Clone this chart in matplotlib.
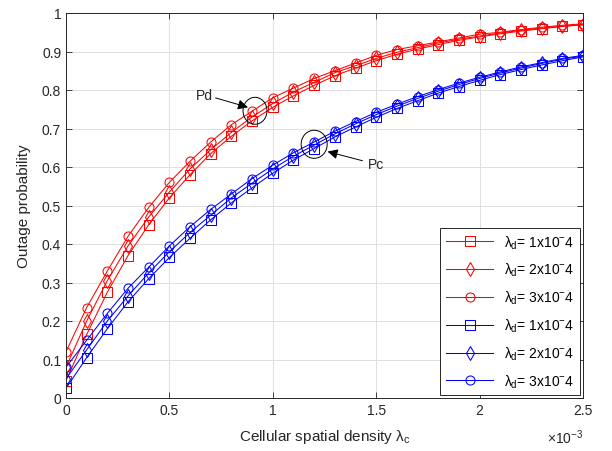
import numpy as np
import matplotlib
matplotlib.use('Agg')
import matplotlib.pyplot as plt
from matplotlib.patches import Ellipse

plt.rcParams['font.family'] = ['Liberation Sans', 'DejaVu Sans']
plt.rcParams['mathtext.fontset'] = 'custom'
plt.rcParams['mathtext.rm'] = 'Liberation Sans'
plt.rcParams['mathtext.it'] = 'Liberation Sans'

# cellular density (x10^-3)
lam_c = [0.0, 0.1, 0.2, 0.3, 0.4, 0.5, 0.6, 0.7, 0.8, 0.9, 1.0, 1.1, 1.2,
         1.3, 1.4, 1.5, 1.6, 1.7, 1.8, 1.9, 2.0, 2.1, 2.2, 2.3, 2.4, 2.5]

# Pd (red)
pd_1 = [0.045, 0.165, 0.275, 0.37, 0.45, 0.52, 0.58, 0.635, 0.68, 0.72, 0.755, 0.785, 0.812,
        0.837, 0.857, 0.876, 0.893, 0.906, 0.918, 0.929, 0.938, 0.946, 0.953, 0.959, 0.965, 0.969]
pd_2 = [0.08, 0.2, 0.305, 0.395, 0.47, 0.535, 0.595, 0.645, 0.69, 0.73, 0.765, 0.795, 0.82,
        0.845, 0.863, 0.882, 0.898, 0.91, 0.922, 0.932, 0.94, 0.948, 0.955, 0.961, 0.966, 0.97]
pd_3 = [0.12, 0.235, 0.33, 0.42, 0.495, 0.56, 0.615, 0.665, 0.71, 0.745, 0.78, 0.805, 0.83,
        0.85, 0.87, 0.89, 0.905, 0.915, 0.925, 0.935, 0.945, 0.95, 0.957, 0.963, 0.968, 0.972]

# Pc (blue)
pc_1 = [0.025, 0.105, 0.18, 0.25, 0.31, 0.365, 0.415, 0.463, 0.507, 0.546, 0.584, 0.618, 0.648,
        0.678, 0.704, 0.729, 0.752, 0.772, 0.792, 0.809, 0.825, 0.84, 0.853, 0.865, 0.876, 0.886]
pc_2 = [0.05, 0.125, 0.2, 0.265, 0.325, 0.38, 0.43, 0.475, 0.52, 0.558, 0.595, 0.628, 0.657,
        0.686, 0.712, 0.736, 0.758, 0.778, 0.797, 0.814, 0.83, 0.844, 0.857, 0.869, 0.88, 0.888]
pc_3 = [0.08, 0.15, 0.22, 0.285, 0.34, 0.395, 0.445, 0.49, 0.53, 0.57, 0.605, 0.637, 0.665,
        0.693, 0.718, 0.742, 0.763, 0.783, 0.801, 0.818, 0.833, 0.847, 0.86, 0.871, 0.882, 0.89]

labels = [r'$\lambda_{\rm d}$= 1x10$^{-}$4', r'$\lambda_{\rm d}$= 2x10$^{-}$4',
          r'$\lambda_{\rm d}$= 3x10$^{-}$4']
markers = ['s', 'd', 'o']

fig = plt.figure(figsize=(6.12, 4.52), dpi=100)
ax = fig.add_axes([66/612, 1-399/452, (583-66)/612, (399-14)/452])

for ys, m, lb in zip([pd_1, pd_2, pd_3], markers, labels):
    ax.plot(lam_c, ys, color='#ff0000', marker=m, mfc='none', ms=6.5 if m != 'd' else 7,
            lw=0.75, mew=0.75, label=lb)
for ys, m, lb in zip([pc_1, pc_2, pc_3], markers, labels):
    ax.plot(lam_c, ys, color='#0000ff', marker=m, mfc='none', ms=6.5 if m != 'd' else 7,
            lw=0.75, mew=0.75, label=lb)

# annotations
ax.add_patch(Ellipse((0.914, 0.746), 0.116, 0.07, fill=False, ec='black', lw=0.7, zorder=5))
ax.add_patch(Ellipse((1.2, 0.659), 0.126, 0.073, fill=False, ec='black', lw=0.7, zorder=5))
ax.annotate('Pd', xy=(0.88, 0.755), xytext=(0.71, 0.788), fontsize=10, color='#262626',
            ha='right', va='center',
            arrowprops=dict(arrowstyle='-|>', color='black', lw=0.7, mutation_scale=15,
                            shrinkA=0, shrinkB=0))
ax.annotate('Pc', xy=(1.265, 0.64), xytext=(1.46, 0.607), fontsize=10, color='#262626',
            ha='left', va='center',
            arrowprops=dict(arrowstyle='-|>', color='black', lw=0.7, mutation_scale=15,
                            shrinkA=2, shrinkB=0))

ax.set_xlim(0, 2.5)
ax.set_ylim(0, 1)
ax.set_xticks([0, 0.5, 1, 1.5, 2, 2.5])
ax.set_xticklabels(['0', '0.5', '1', '1.5', '2', '2.5'])
ax.set_yticks(np.arange(0, 1.01, 0.1))
ax.set_yticklabels(['0', '0.1', '0.2', '0.3', '0.4', '0.5', '0.6', '0.7', '0.8', '0.9', '1'])
ax.grid(True, color='#e0e0e0', lw=0.7)
ax.set_axisbelow(True)
ax.tick_params(direction='in', length=4, width=0.6, colors='#262626', labelsize=10,
               top=True, right=True)
for s in ax.spines.values():
    s.set_color('#262626')
    s.set_linewidth(0.7)

ax.set_xlabel(r'Cellular spatial density $\lambda_{\rm c}$', fontsize=11, color='#262626',
              labelpad=7)
ax.set_ylabel('Outage probability', fontsize=11, color='#262626', labelpad=8)
ax.text(1.0, -0.1, r'$\times10^{-3}$', transform=ax.transAxes, ha='right', va='center',
        fontsize=10, color='#262626')

leg = ax.legend(loc='lower right', fontsize=10, fancybox=False, edgecolor='#262626',
                framealpha=1, borderaxespad=0.2, handlelength=3.4, labelspacing=0.75)
leg.get_frame().set_linewidth(0.7)

fig.savefig('out.png', dpi=100)
